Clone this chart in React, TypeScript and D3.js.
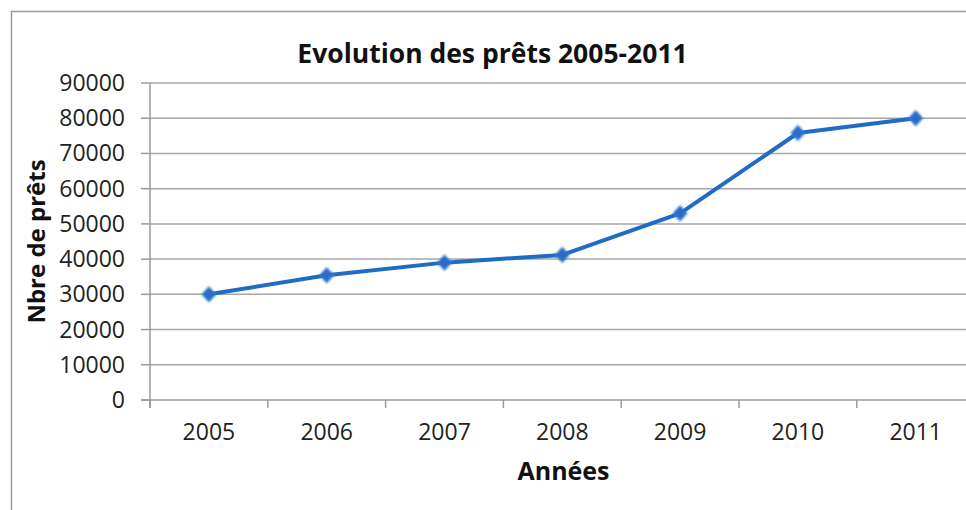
import React from "react";
import * as d3 from "d3";

const years = ["2005", "2006", "2007", "2008", "2009", "2010", "2011"];
const prets = [30000, 35400, 39000, 41200, 53000, 75800, 80000];
const yTicks = [0, 10000, 20000, 30000, 40000, 50000, 60000, 70000, 80000, 90000];
const title = "Evolution des prêts 2005-2011";
const xTitle = "Années";
const yTitle = "Nbre de prêts";

const W = 966;
const H = 510;
const left = 150;
const bandW = 117.8;
const bottom = 400;
const top = 83;

const wideDiamond = {
  draw(ctx: any, size: number) {
    const r = Math.sqrt(size) / 2;
    ctx.moveTo(0, -r * 1.1);
    ctx.lineTo(r, 0);
    ctx.lineTo(0, r * 1.1);
    ctx.lineTo(-r, 0);
    ctx.closePath();
  },
};

export default function App() {
  const x = d3.scaleBand<string>().domain(years).range([left, left + bandW * years.length]).padding(0);
  const y = d3.scaleLinear().domain([0, 90000]).range([bottom, top]);
  const line = d3
    .line<number>()
    .x((_, i) => (x(years[i]) as number) + x.bandwidth() / 2)
    .y((d) => y(d));
  const diamond = d3.symbol().type(wideDiamond as any).size(196)();
  const right = left + bandW * years.length;
  const boundaries = years.map((yr) => x(yr) as number).concat([right]);
  const font = "'Open Sans', 'Noto Sans', sans-serif";
  const textCol = "#222";

  return (
    <svg
      width={W}
      height={H}
      style={{ position: "absolute", left: 0, top: 0, background: "#fff" }}
      fontFamily={font}
    >
      <defs>
        <filter id="blur" x="-50%" y="-50%" width="200%" height="200%">
          <feGaussianBlur stdDeviation="0.9" />
        </filter>
      </defs>
      {/* outer frame */}
      <path d={`M11.5,${H + 2} V11.5 H${W + 2}`} fill="none" stroke="#9a9a9a" strokeWidth={1.5} />

      {/* title */}
      <text x={492.5} y={63} textAnchor="middle" fontSize={26.5} fontWeight="bold" fill="#111">
        {title}
      </text>

      {/* gridlines */}
      {yTicks.slice(1).map((t) => (
        <line key={t} x1={left} x2={right} y1={y(t)} y2={y(t)} stroke="#a6a6a6" strokeWidth={1.5} />
      ))}

      {/* axes */}
      <line x1={left} x2={left} y1={top} y2={bottom + 8} stroke="#9a9a9a" strokeWidth={1.5} />
      <line x1={left - 9} x2={right} y1={bottom} y2={bottom} stroke="#9a9a9a" strokeWidth={1.5} />
      {yTicks.map((t) => (
        <g key={t}>
          <line x1={left - 9} x2={left} y1={y(t)} y2={y(t)} stroke="#9a9a9a" strokeWidth={1.5} />
          <text x={125} y={y(t)} dy="0.35em" textAnchor="end" fontSize={23} fill={textCol}>
            {t}
          </text>
        </g>
      ))}
      {boundaries.map((bx, i) => (
        <line key={i} x1={bx} x2={bx} y1={bottom} y2={bottom + 8} stroke="#9a9a9a" strokeWidth={1.5} />
      ))}
      {years.map((yr) => (
        <text
          key={yr}
          x={(x(yr) as number) + x.bandwidth() / 2}
          y={440}
          textAnchor="middle"
          fontSize={23}
          fill={textCol}
        >
          {yr}
        </text>
      ))}

      {/* axis titles */}
      <text x={563.5} y={480} textAnchor="middle" fontSize={25} fontWeight="bold" fill="#111">
        {xTitle}
      </text>
      <text
        transform={`translate(45,241.5) rotate(-90)`}
        textAnchor="middle"
        fontSize={24}
        fontWeight="bold"
        fill="#111"
      >
        {yTitle}
      </text>

      {/* series */}
      <path d={line(prets) || ""} fill="none" stroke="#1f6cc4" strokeWidth={4} strokeLinejoin="round" />
      {prets.map((v, i) => (
        <path
          key={i}
          d={diamond || ""}
          transform={`translate(${(x(years[i]) as number) + x.bandwidth() / 2},${y(v)})`}
          fill="#2a6cc8"
          stroke="#3f7fd2"
          strokeWidth={1}
          filter="url(#blur)"
        />
      ))}
    </svg>
  );
}
